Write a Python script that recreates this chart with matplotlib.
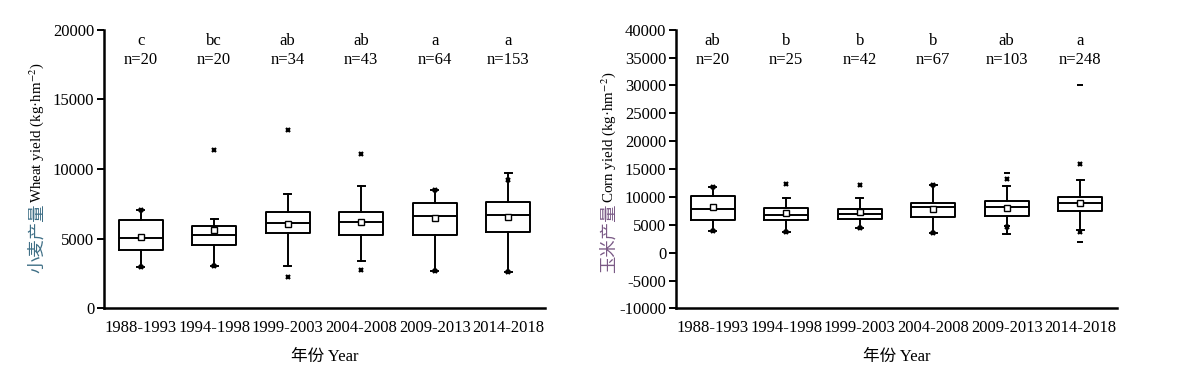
"""
Boxplots of wheat and corn yield by period (two panels side by side).
"""

import matplotlib
matplotlib.use("Agg")
import matplotlib.pyplot as plt

plt.rcParams['font.family'] = ['Liberation Serif', 'Noto Sans CJK SC', 'DejaVu Sans']
plt.rcParams['mathtext.fontset'] = 'stix'
plt.rcParams['axes.unicode_minus'] = False

# Data
periods = ['1988-1993', '1994-1998', '1999-2003', '2004-2008', '2009-2013', '2014-2018']

wheat_q1 = [4180, 4560, 5380, 5280, 5300, 5520]
wheat_med = [5020, 5300, 6140, 6210, 6640, 6740]
wheat_q3 = [6360, 5900, 6930, 6910, 7600, 7620]
wheat_lo = [2960, 3010, 3060, 3390, 2680, 2580]
wheat_hi = [7080, 6400, 8240, 8750, 8480, 9700]
wheat_mean = [5110, 5640, 6090, 6170, 6480, 6550]
wheat_x = [[2960, 7080], [3010, 11370], [2270, 12830], [2770, 11090], [2680, 8480], [2580, 9250]]
wheat_dash = [[], [], [], [], [], []]
wheat_letters = ['c', 'bc', 'ab', 'ab', 'a', 'a']
wheat_n = [20, 20, 34, 43, 64, 153]

corn_q1 = [5910, 5910, 6040, 6400, 6580, 7470]
corn_med = [7830, 6760, 6990, 8120, 8120, 8840]
corn_q3 = [10170, 8010, 7890, 8960, 9200, 9920]
corn_lo = [3940, 3760, 4350, 3460, 3350, 3990]
corn_hi = [11780, 9860, 9730, 12070, 11960, 13030]
corn_mean = [8120, 7040, 7300, 7760, 8010, 9000]
corn_x = [[3940, 11780], [3760, 12320], [4350, 12070], [3460, 12070], [4600, 13270], [3640, 15830]]
corn_dash = [[], [], [], [], [4800, 14220], [1840, 30080]]
corn_letters = ['ab', 'b', 'b', 'b', 'ab', 'a']
corn_n = [20, 25, 42, 67, 103, 248]

FS = 12


def make_stats(q1, med, q3, lo, hi, mean, xs):
    stats = []
    for i in range(len(q1)):
        stats.append({'q1': q1[i], 'med': med[i], 'q3': q3[i],
                      'whislo': lo[i], 'whishi': hi[i],
                      'mean': mean[i], 'fliers': xs[i]})
    return stats


def draw_panel(ax, stats, dashes, letters, ns, cn_label, en_label, cn_color,
               ylim, yticks):
    lw = 1.4
    positions = list(range(1, len(stats) + 1))
    ax.bxp(stats, positions=positions, widths=0.6, capwidths=0.1,
           showmeans=True, showfliers=True,
           boxprops=dict(color='black', linewidth=lw),
           whiskerprops=dict(color='black', linewidth=lw),
           capprops=dict(color='black', linewidth=lw),
           medianprops=dict(color='black', linewidth=lw),
           meanprops=dict(marker='s', markersize=3.8, markerfacecolor='white',
                          markeredgecolor='black', markeredgewidth=1.0),
           flierprops=dict(marker='x', markersize=3.5, markeredgecolor='black',
                           markeredgewidth=1.6))
    for pos, d in zip(positions, dashes):
        if d:
            ax.plot([pos] * len(d), d, linestyle='none', marker='_',
                    markersize=4, markeredgewidth=1.4, color='black')

    for pos, let, n in zip(positions, letters, ns):
        ax.text(pos, 0.96, let, transform=ax.get_xaxis_transform(),
                ha='center', va='center', fontsize=FS)
        ax.text(pos, 0.893, 'n=%d' % n, transform=ax.get_xaxis_transform(),
                ha='center', va='center', fontsize=FS)

    ax.set_xlim(0.5, 6.5)
    ax.set_ylim(*ylim)
    ax.set_yticks(yticks)
    ax.set_xticks(positions)
    ax.set_xticklabels(periods, fontsize=FS)
    ax.tick_params(axis='x', length=0, pad=8)
    ax.tick_params(axis='y', length=5, width=1.4, labelsize=FS, pad=2)
    ax.spines['top'].set_visible(False)
    ax.spines['right'].set_visible(False)
    ax.spines['left'].set_linewidth(1.8)
    ax.spines['bottom'].set_linewidth(1.8)
    ax.set_xlabel('年份 Year', fontsize=FS, labelpad=10)

    # y label: Chinese part in colour, English part in black
    fig = ax.figure
    pos_ax = ax.get_position()
    x_lab = pos_ax.x0 - 0.0564
    fig.text(x_lab, 0.278, cn_label, rotation=90, ha='center', va='bottom',
             fontsize=12.5, color=cn_color, family=['Noto Sans CJK SC', 'DejaVu Sans'])
    fig.text(x_lab, 0.462, en_label, rotation=90, ha='center', va='bottom',
             fontsize=10.8)


def plot():
    fig = plt.figure(figsize=(11.88, 3.78), dpi=100)
    ax1 = fig.add_axes([0.0875, 0.184, 0.3712, 0.7375])
    ax2 = fig.add_axes([0.569, 0.184, 0.3712, 0.7375])

    draw_panel(ax1, make_stats(wheat_q1, wheat_med, wheat_q3, wheat_lo, wheat_hi,
                               wheat_mean, wheat_x),
               wheat_dash, wheat_letters, wheat_n,
               '小麦产量', r'Wheat yield (kg·hm$^{-2}$)', '#3f6f86',
               (0, 20000), [0, 5000, 10000, 15000, 20000])
    draw_panel(ax2, make_stats(corn_q1, corn_med, corn_q3, corn_lo, corn_hi,
                               corn_mean, corn_x),
               corn_dash, corn_letters, corn_n,
               '玉米产量', r'Corn yield (kg·hm$^{-2}$)', '#7a5a86',
               (-10000, 40000), list(range(-10000, 40001, 5000)))

    fig.savefig('out.png', dpi=100)


plot()
